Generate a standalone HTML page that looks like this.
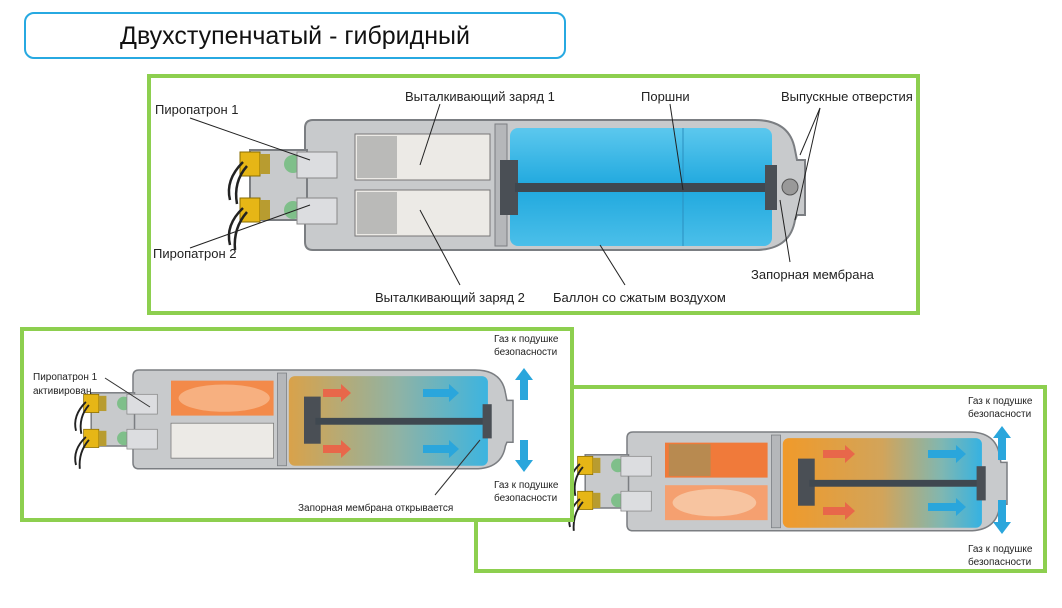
<!DOCTYPE html>
<html><head><meta charset="utf-8"><style>
html,body{margin:0;padding:0;background:#fff;}
body{width:1062px;height:603px;position:relative;overflow:hidden;font-family:"Liberation Sans","Noto Sans CJK SC",sans-serif;}
</style></head><body>
<svg width="1062" height="603" viewBox="0 0 1062 603" xmlns="http://www.w3.org/2000/svg" font-family="Liberation Sans, Noto Sans CJK SC, sans-serif">
<defs>
<linearGradient id="blue" x1="0" y1="0" x2="0" y2="1"><stop offset="0" stop-color="#5cc8ee"/><stop offset=".5" stop-color="#1fa8de"/><stop offset="1" stop-color="#4bbfe9"/></linearGradient>
<linearGradient id="mix" x1="0" y1="0" x2="1" y2="0"><stop offset="0" stop-color="#d9a24a"/><stop offset=".55" stop-color="#8fb3a5"/><stop offset="1" stop-color="#3cb4e0"/></linearGradient>
<linearGradient id="mix2" x1="0" y1="0" x2="1" y2="0"><stop offset="0" stop-color="#f09a2a"/><stop offset=".5" stop-color="#d2a45a"/><stop offset=".8" stop-color="#7fb7b2"/><stop offset="1" stop-color="#35b2e2"/></linearGradient>
<g id="dev">
  <path d="M0,8 Q0,0 8,0 H450 Q485,0 490,30 L492,40 H500 V95 H492 L490,100 Q485,130 450,130 H8 Q0,130 0,122 Z" fill="#c8cacc" stroke="#7b7e82" stroke-width="2"/>
  <rect x="-55" y="30" width="57" height="70" fill="#c8cacc" stroke="#7b7e82" stroke-width="2"/>
  <rect x="-65" y="32" width="20" height="24" fill="#e6b616" stroke="#8a6d00"/>
  <rect x="-65" y="78" width="20" height="24" fill="#e6b616" stroke="#8a6d00"/>
  <rect x="-45" y="34" width="10" height="20" fill="#b89c30"/>
  <rect x="-45" y="80" width="10" height="20" fill="#b89c30"/>
  <path d="M-62,42 Q-80,60 -75,80 M-58,46 Q-72,62 -68,84 M-62,88 Q-80,105 -75,125 M-58,92 Q-72,108 -70,130" stroke="#222" stroke-width="2.5" fill="none"/>
  <circle cx="-12" cy="44" r="9" fill="#7fbf8a"/><circle cx="-12" cy="90" r="9" fill="#7fbf8a"/>
  <rect x="-8" y="32" width="40" height="26" fill="#dcdde0" stroke="#888"/>
  <rect x="-8" y="78" width="40" height="26" fill="#dcdde0" stroke="#888"/>
  <rect x="190" y="4" width="12" height="122" fill="#b5b7ba" stroke="#7b7e82"/>
</g>
</defs>

<rect x="25" y="13" width="540" height="45" rx="9" fill="#fff" stroke="#27a9e1" stroke-width="2"/>
<text x="295" y="44" font-size="25" text-anchor="middle" fill="#111">Двухступенчатый - гибридный</text>

<!-- Panel 1 -->
<rect x="149" y="76" width="769" height="237" fill="#fff" stroke="#8dcf4f" stroke-width="4"/>
<g transform="translate(305,120)">
  <use href="#dev"/>
  <rect x="50" y="14" width="135" height="46" fill="#eceae6" stroke="#777"/>
  <rect x="50" y="70" width="135" height="46" fill="#eceae6" stroke="#777"/>
  <rect x="52" y="16" width="40" height="42" fill="#9a9a9a" opacity=".6"/>
  <rect x="52" y="72" width="40" height="42" fill="#9a9a9a" opacity=".6"/>
  <rect x="205" y="8" width="262" height="118" rx="8" fill="url(#blue)"/>
  <line x1="378" y1="8" x2="378" y2="126" stroke="#2b8fc0"/>
  <rect x="195" y="40" width="18" height="55" fill="#4a4f55"/>
  <rect x="210" y="63" width="255" height="9" fill="#3f4850"/>
  <rect x="460" y="45" width="12" height="45" fill="#4a4f55"/>
  <circle cx="485" cy="67" r="8" fill="#999" stroke="#555"/>
</g>
<g font-size="13" fill="#222">
<text x="155" y="114">Пиропатрон 1</text>
<text x="153" y="258">Пиропатрон 2</text>
<text x="405" y="101">Выталкивающий заряд 1</text>
<text x="641" y="101">Поршни</text>
<text x="781" y="101">Выпускные отверстия</text>
<text x="751" y="279">Запорная мембрана</text>
<text x="375" y="302">Выталкивающий заряд 2</text>
<text x="553" y="302">Баллон со сжатым воздухом</text>
</g>
<g stroke="#222" stroke-width="1" fill="none">
<line x1="190" y1="118" x2="310" y2="160"/>
<line x1="190" y1="248" x2="310" y2="205"/>
<line x1="440" y1="104" x2="420" y2="165"/>
<line x1="420" y1="210" x2="460" y2="285"/>
<line x1="670" y1="104" x2="683" y2="190"/>
<line x1="820" y1="108" x2="800" y2="155"/>
<line x1="820" y1="108" x2="795" y2="220"/>
<line x1="790" y1="262" x2="780" y2="200"/>
<line x1="625" y1="285" x2="600" y2="245"/>
</g>

<!-- Panel 3 -->
<rect x="476" y="387" width="569" height="184" fill="#fff" stroke="#8dcf4f" stroke-width="4"/>
<g transform="translate(627,432) scale(.76)">
  <use href="#dev"/>
  <rect x="50" y="14" width="135" height="46" fill="#f07a3a"/>
  <rect x="55" y="16" width="55" height="42" fill="#b88a50"/>
  <rect x="50" y="70" width="135" height="46" fill="#f5a070"/>
  <ellipse cx="115" cy="93" rx="55" ry="18" fill="#f7c4a0"/>
  <rect x="205" y="8" width="262" height="118" rx="8" fill="url(#mix2)"/>
  <rect x="225" y="35" width="22" height="62" fill="#4a4f55"/>
  <rect x="240" y="63" width="225" height="9" fill="#3f4850"/>
  <rect x="460" y="45" width="12" height="45" fill="#4a4f55"/>
</g>
<g font-size="10" fill="#222"><text x="968" y="404">Газ к подушке</text><text x="968" y="417">безопасности</text><text x="968" y="552">Газ к подушке</text><text x="968" y="565">безопасности</text></g>

<!-- Panel 2 -->
<rect x="22" y="329" width="550" height="191" fill="#fff" stroke="#8dcf4f" stroke-width="4"/>
<g transform="translate(133,370) scale(.76)">
  <use href="#dev"/>
  <rect x="50" y="14" width="135" height="46" fill="#f38a4a"/>
  <ellipse cx="120" cy="37" rx="60" ry="18" fill="#f7b080"/>
  <rect x="50" y="70" width="135" height="46" fill="#eceae6" stroke="#777"/>
  <rect x="205" y="8" width="262" height="118" rx="8" fill="url(#mix)"/>
  <rect x="225" y="35" width="22" height="62" fill="#4a4f55"/>
  <rect x="240" y="63" width="225" height="9" fill="#3f4850"/>
  <rect x="460" y="45" width="12" height="45" fill="#4a4f55"/>
</g>
<g font-size="10" fill="#222">
<text x="33" y="380">Пиропатрон 1</text><text x="33" y="394">активирован</text>
<text x="494" y="342">Газ к подушке</text><text x="494" y="355">безопасности</text>
<text x="494" y="488">Газ к подушке</text><text x="494" y="501">безопасности</text>
<text x="298" y="511">Запорная мембрана открывается</text>
</g>
<line x1="105" y1="378" x2="150" y2="407" stroke="#333"/>
<line x1="435" y1="495" x2="480" y2="440" stroke="#333"/>
<!-- arrows panel 2 -->
<g fill="#e8674a"><path d="M323,389 h18 v-5 l10,9 -10,9 v-5 h-18z"/><path d="M323,445 h18 v-5 l10,9 -10,9 v-5 h-18z"/></g>
<g fill="#2aa6dc"><path d="M423,389 h26 v-5 l10,9 -10,9 v-5 h-26z"/><path d="M423,445 h26 v-5 l10,9 -10,9 v-5 h-26z"/>
<path d="M520,400 v-20 h-5 l9,-12 9,12 h-5 v20z"/><path d="M520,440 v20 h-5 l9,12 9,-12 h-5 v-20z"/></g>
<!-- arrows panel 3 -->
<g fill="#e8674a"><path d="M823,450 h22 v-5 l10,9 -10,9 v-5 h-22z"/><path d="M823,507 h22 v-5 l10,9 -10,9 v-5 h-22z"/></g>
<g fill="#2aa6dc"><path d="M928,450 h28 v-5 l10,9 -10,9 v-5 h-28z"/><path d="M928,503 h28 v-5 l10,9 -10,9 v-5 h-28z"/>
<path d="M998,460 v-22 h-5 l9,-12 9,12 h-5 v22z"/><path d="M998,500 v22 h-5 l9,12 9,-12 h-5 v-22z"/></g>
</svg>
</body></html>
